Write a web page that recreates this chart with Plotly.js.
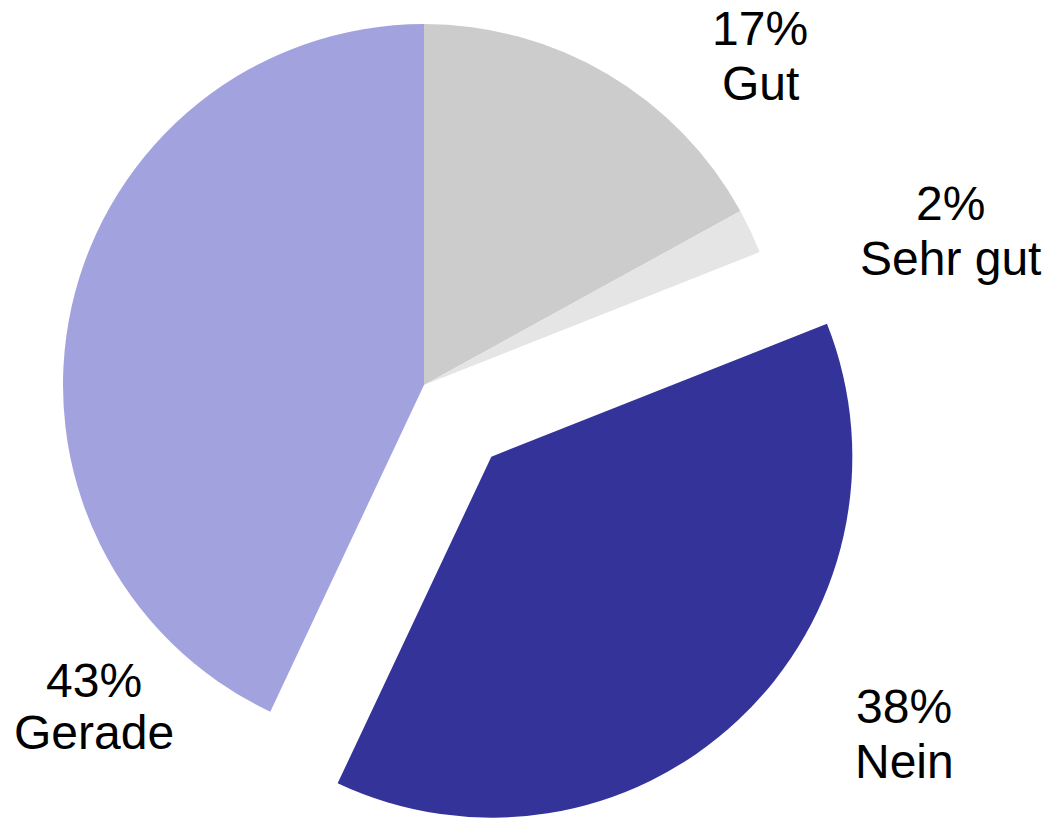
<!DOCTYPE html>
<html>
<head>
<meta charset="utf-8">
<script src="https://cdn.plot.ly/plotly-3.0.1.min.js"></script>
<style>
html, body { margin:0; padding:0; overflow:hidden; background:#ffffff; width:1046px; height:818px; }
#chart { position:absolute; left:-40px; top:-80px; width:1100px; height:930px; }
</style>
</head>
<body>
<div id="chart"></div>
<script>
// ---- data ----
const categories = ["Gut", "Sehr gut", "Nein", "Gerade"];
const values = [17, 2, 38, 43];
const percentLabels = ["17%", "2%", "38%", "43%"];

// ---- style ----
const sliceColors = ["#cccccc", "#e5e5e5", "#333399", "#a2a2de"];
const pulls = [0, 0, 0.2725, 0];

// ---- layout geometry (page pixels) ----
const OFF_L = 40, OFF_T = 80, W = 1100, H = 930;
const CX = 424, CY = 385, R = 361;
const maxPull = Math.max.apply(null, pulls);
const half = R * (1 + maxPull);
const dx0 = (CX + OFF_L - half) / W, dx1 = (CX + OFF_L + half) / W;
const dy1 = 1 - (CY + OFF_T - half) / H, dy0 = 1 - (CY + OFF_T + half) / H;

// label positions: [x centre, y of percent line, y of name line]
const labelPos = [[760, 29, 83], [950, 203, 258], [904, 706, 761], [94, 680, 732]];

function px(x) { return (x + OFF_L) / W; }
function py(y) { return 1 - (y + OFF_T) / H; }

const font = { family: "Liberation Sans, Arial, sans-serif", size: 48, color: "#000000" };
const annotations = [];
categories.forEach(function (c, i) {
  const p = labelPos[i];
  annotations.push({ text: percentLabels[i], x: px(p[0]), y: py(p[1]), xref: "paper", yref: "paper",
    xanchor: "center", yanchor: "middle", showarrow: false, font: font });
  annotations.push({ text: c, x: px(p[0]), y: py(p[2]), xref: "paper", yref: "paper",
    xanchor: "center", yanchor: "middle", showarrow: false, font: font });
});

const trace = {
  type: "pie",
  labels: categories,
  values: values,
  sort: false,
  direction: "clockwise",
  rotation: 0,
  pull: pulls,
  marker: { colors: sliceColors, line: { width: 0 } },
  textinfo: "none",
  hoverinfo: "label+percent",
  domain: { x: [dx0, dx1], y: [dy0, dy1] }
};

const layout = {
  width: W, height: H,
  margin: { l: 0, r: 0, t: 0, b: 0, pad: 0 },
  showlegend: false,
  paper_bgcolor: "#ffffff",
  plot_bgcolor: "#ffffff",
  font: font,
  annotations: annotations
};

Plotly.newPlot("chart", [trace], layout, { displayModeBar: false, staticPlot: true });
</script>
</body>
</html>
